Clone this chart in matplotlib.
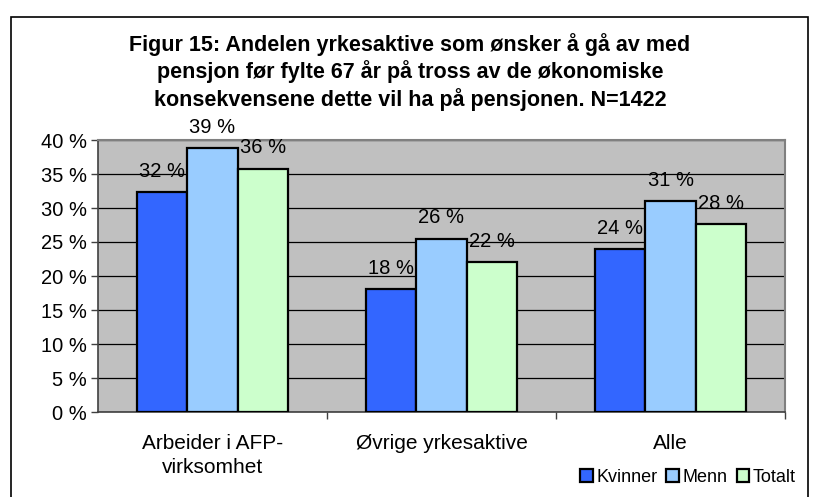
import matplotlib.pyplot as plt
import numpy as np
from matplotlib.patches import Rectangle

plt.rcParams['font.family'] = ['Liberation Sans', 'DejaVu Sans']

# data
categories = ['Arbeider i AFP-\nvirksomhet', 'Øvrige yrkesaktive', 'Alle']
series_names = ['Kvinner', 'Menn', 'Totalt']
kvinner = [32.4, 18.1, 23.9]
menn = [38.8, 25.5, 31.0]
totalt = [35.8, 22.1, 27.7]
colors = ['#3366FF', '#99CCFF', '#CCFFCC']
title = ('Figur 15: Andelen yrkesaktive som ønsker å gå av med\n'
         'pensjon før fylte 67 år på tross av de økonomiske\n'
         'konsekvensene dette vil ha på pensjonen. N=1422')

fig = plt.figure(figsize=(8.15, 4.97), dpi=100)
ax = fig.add_axes([98 / 815, 1 - 412 / 497, 687 / 815, 272 / 497])
ax.set_facecolor('#C0C0C0')

# ramme rundt hele diagrammet
fig.patches.append(Rectangle((11 / 815, -0.05), 797 / 815, 1 - 17 / 497 + 0.05,
                             transform=fig.transFigure, fill=False,
                             edgecolor='black', linewidth=1.2))

x = np.arange(len(categories))
w = 0.22
for i, (vals, name) in enumerate(zip([kvinner, menn, totalt], series_names)):
    bars = ax.bar(x + (i - 1) * w, vals, w, color=colors[i], edgecolor='black',
                  linewidth=1.6, label=name, zorder=3)
    for b, v in zip(bars, vals):
        ax.annotate(f'{round(v):.0f} %', (b.get_x() + b.get_width() / 2, v),
                    xytext=(0, 8), textcoords='offset points',
                    ha='center', va='bottom', fontsize=14.5, zorder=4)

ax.set_ylim(0, 40)
ax.set_xlim(-0.5, 2.5)
ax.set_yticks(range(0, 41, 5))
ax.set_yticklabels([f'{t} %' for t in range(0, 41, 5)], fontsize=14.5)
ax.yaxis.grid(True, color='black', linewidth=0.9, zorder=0)
ax.set_axisbelow(True)

ax.set_xticks(x)
ax.set_xticklabels(categories, fontsize=15, linespacing=1.3)
ax.tick_params(axis='x', length=0, pad=16)
ax.set_xticks([0.5, 1.5, 2.5], minor=True)
ax.tick_params(axis='x', which='minor', length=5, width=1, color='#404040')
ax.tick_params(axis='y', length=5, width=1, color='#404040', pad=3)

for s in ['top', 'right']:
    ax.spines[s].set_color('#808080')
    ax.spines[s].set_linewidth(1.5)
for s in ['left', 'bottom']:
    ax.spines[s].set_color('#404040')
    ax.spines[s].set_linewidth(1.2)

fig.text(0.503, 1 - 72 / 497, title, ha='center', va='center',
         fontsize=15.5, fontweight='bold', linespacing=1.25)

ax.legend(loc='center', bbox_to_anchor=(688 / 815, 1 - 477 / 497),
          bbox_transform=fig.transFigure, ncol=3, frameon=False, fontsize=13,
          handlelength=0.7, handleheight=0.7, handletextpad=0.2,
          columnspacing=0.5, borderpad=0.2)

fig.savefig('out.png', dpi=100)
